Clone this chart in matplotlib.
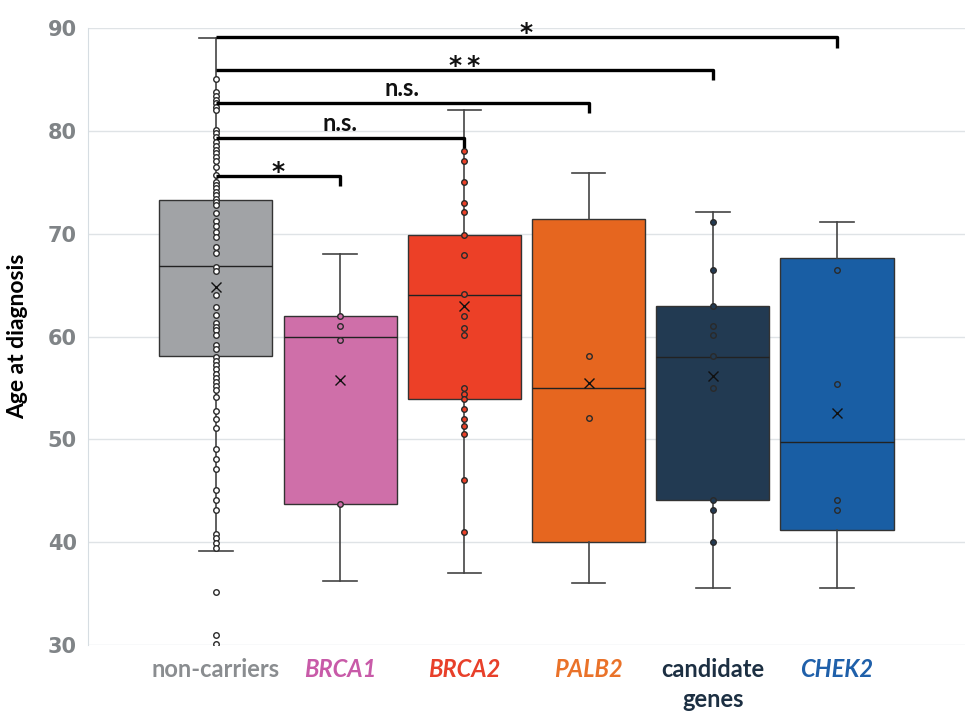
import matplotlib.pyplot as plt
import numpy as np

# groups and colours
groups = ["non-carriers", "BRCA1", "BRCA2", "PALB2", "candidate\ngenes", "CHEK2"]
box_colors = ["#a1a3a6", "#cf6fa9", "#ec4027", "#e6661f", "#223a52", "#195ea4"]
label_colors = ["#8a8d90", "#c85aa8", "#e8402a", "#ea7229", "#1c2f42", "#1f60aa"]
label_italic = [False, True, True, True, False, True]

# box statistics
q1 = [58.1, 43.7, 53.9, 40.0, 44.1, 41.2]
median = [66.9, 60.0, 64.0, 55.0, 58.0, 49.7]
q3 = [73.3, 62.0, 69.9, 71.4, 63.0, 67.6]
whis_lo = [39.1, 36.2, 37.0, 36.0, 35.5, 35.5]
whis_hi = [89.0, 68.0, 82.0, 75.9, 72.1, 71.1]
means = [64.8, 55.8, 63.0, 55.5, 56.2, 52.6]

# individual points drawn on the boxes
points = [
    [85.0, 83.8, 83.4, 83.0, 82.7, 82.3, 82.0, 80.1, 79.8, 79.4, 78.9, 78.5,
     78.1, 77.8, 77.5, 77.1, 76.5, 75.7, 75.0, 74.7, 74.4, 74.1, 73.8, 73.4,
     73.1, 72.8, 72.0, 71.2, 70.7, 70.2, 69.7, 68.7, 68.1, 66.8, 66.4, 64.0,
     62.9, 62.1, 61.3, 60.9, 60.6, 60.1, 59.2, 58.8, 58.0, 57.6, 57.2, 56.8,
     56.4, 56.0, 55.6, 55.2, 54.8, 54.1, 52.8, 52.0, 51.1, 49.1, 48.1, 47.1,
     45.1, 44.1, 43.1, 40.8, 40.4, 39.9, 39.4, 35.2, 31.0, 30.1],
    [62.0, 61.0, 59.7, 43.7],
    [78.0, 77.1, 75.0, 73.0, 72.1, 69.9, 67.9, 64.1, 62.0, 60.8, 60.1, 55.0,
     54.4, 53.9, 53.0, 52.0, 51.3, 50.5, 46.0, 41.0],
    [58.1, 52.1],
    [71.1, 66.5, 63.0, 61.0, 60.1, 58.1, 55.0, 44.1, 43.1, 40.0],
    [66.5, 55.4, 44.1, 43.1],
]
point_faces = ["white", "#cf6fa9", "#ec4027", "#e6661f", "#223a52", "#195ea4"]

# significance brackets: (to group, height, text)
sig_to = [1, 2, 3, 4, 5]
sig_height = [75.6, 79.3, 82.7, 85.9, 89.1]
sig_text = ["*", "n.s.", "n.s.", "*\u2009*", "*"]

fig = plt.figure(figsize=(9.65, 7.11), dpi=100)
ax = fig.add_axes([0.091, 0.0928, 0.909, 0.8678])

stats = []
for i in range(len(groups)):
    stats.append({"q1": q1[i], "med": median[i], "q3": q3[i],
                  "whislo": whis_lo[i], "whishi": whis_hi[i], "mean": means[i]})

pos = np.arange(len(groups))
bp = ax.bxp(stats, positions=pos, widths=0.91, capwidths=0.27,
            patch_artist=True, showmeans=True, showfliers=False,
            boxprops=dict(edgecolor="#333333", linewidth=1.0),
            medianprops=dict(color="#222222", linewidth=1.0),
            whiskerprops=dict(color="#444444", linewidth=1.2),
            capprops=dict(color="#444444", linewidth=1.2),
            meanprops=dict(marker="x", markeredgecolor="#111111",
                           markersize=7, markeredgewidth=1.0))
for patch, c in zip(bp["boxes"], box_colors):
    patch.set_facecolor(c)
for m in bp["means"]:
    m.set_zorder(5)

for i, vals in enumerate(points):
    ax.plot([pos[i]] * len(vals), vals, "o", ms=4, mfc=point_faces[i],
            mec="#2a2a2a", mew=1.0, zorder=4)

# brackets
for j, h, t in zip(sig_to, sig_height, sig_text):
    ax.plot([pos[0], pos[j], pos[j]], [h, h, h - 1.0], color="black",
            lw=2.4, solid_capstyle="butt", zorder=6)
    xm = (pos[0] + pos[j]) / 2
    if "*" in t:
        ax.text(xm, h - 0.8, t, ha="center", va="bottom", fontsize=18,
                fontweight="bold", color="#111111")
    else:
        ax.text(xm, h + 0.3, t, ha="center", va="bottom", fontsize=17,
                fontfamily="Lato", fontweight="bold", color="#111111")

ax.set_ylim(30, 90)
ax.set_xlim(-1.03, 6.03)
ax.set_yticks(range(30, 91, 10))
ax.grid(axis="y", color="#dfe3e6", linewidth=1.0)
ax.set_axisbelow(True)
for s in ["top", "right", "bottom"]:
    ax.spines[s].set_visible(False)
ax.spines["left"].set_color("#d6dde2")
ax.tick_params(axis="y", length=0, pad=8, labelcolor="#808487", labelsize=15)
for lab in ax.get_yticklabels():
    lab.set_fontweight("bold")

ax.set_xticks(pos)
ax.set_xticklabels(groups)
ax.tick_params(axis="x", length=0, pad=9)
for lab, c, it in zip(ax.get_xticklabels(), label_colors, label_italic):
    lab.set_color(c)
    lab.set_fontfamily("Lato")
    lab.set_fontweight("bold")
    lab.set_fontsize(17)
    lab.set_linespacing(1.4)
    if it:
        lab.set_fontstyle("italic")

ax.set_ylabel("Age at diagnosis", fontsize=16.5, fontfamily="Lato",
              fontweight="bold", labelpad=14)

fig.savefig("out.png", dpi=100)
